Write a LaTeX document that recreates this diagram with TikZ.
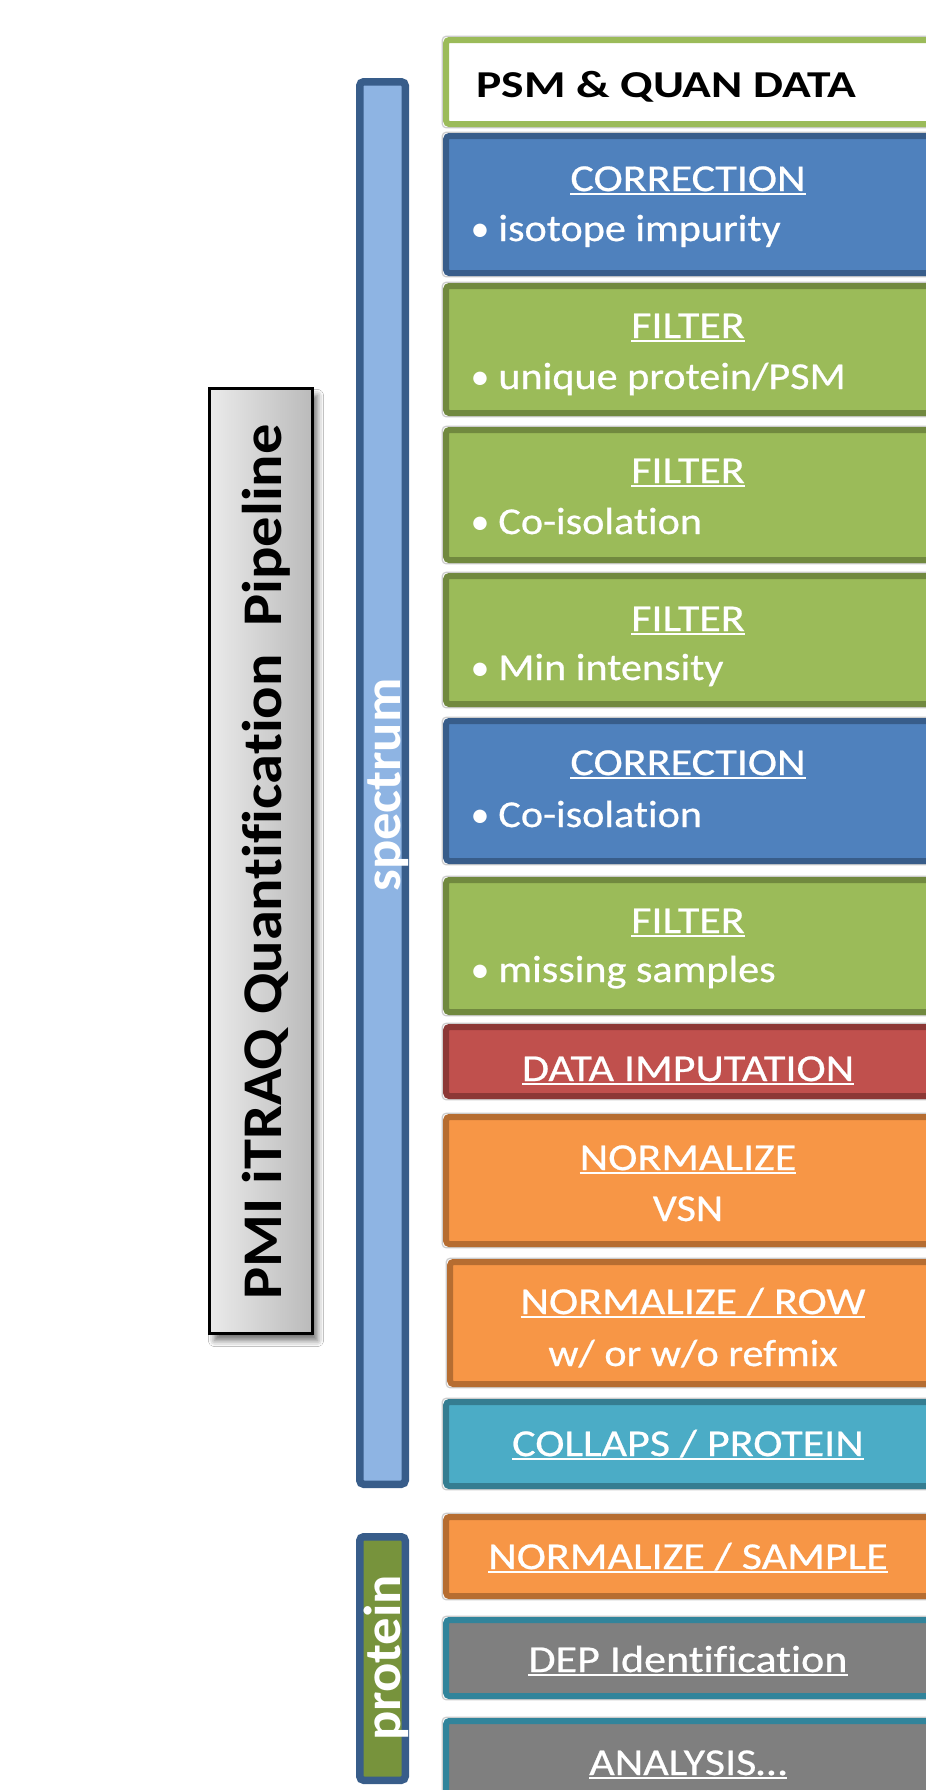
\documentclass[tikz,border=0pt]{standalone}
\usepackage{fontspec}
\setmainfont{Carlito}[Ligatures=NoCommon]
\newfontfamily\hdfont{Carlito}[FakeStretch=1.16, FakeBold=0.6, Ligatures=NoCommon]
\newfontfamily\bdfont{Carlito}[FakeStretch=1.11, FakeBold=0.6, Ligatures=NoCommon]
\newfontfamily\psmfont{Carlito}[FakeStretch=1.25, Ligatures=NoCommon]
\newfontfamily\ttlfont{Carlito}[FakeStretch=1.08, Ligatures=NoCommon]
\newfontfamily\sdfont{Carlito}[FakeStretch=1.05, Ligatures=NoCommon]
\usetikzlibrary{shadows.blur}
\definecolor{grF}{HTML}{9BBB59}\definecolor{grD}{HTML}{71893F}
\definecolor{blF}{HTML}{4F81BD}\definecolor{blD}{HTML}{385D8A}
\definecolor{rdF}{HTML}{C0504D}\definecolor{rdD}{HTML}{8C3836}
\definecolor{orF}{HTML}{F79646}\definecolor{orD}{HTML}{B66D31}
\definecolor{cyF}{HTML}{4BACC6}\definecolor{cyD}{HTML}{357D91}
\definecolor{gyF}{HTML}{7F7F7F}\definecolor{gyD}{HTML}{31849B}
\definecolor{spF}{HTML}{8EB4E3}\definecolor{prF}{HTML}{77933C}
\newcommand\myul[1]{\setbox0\hbox{#1}\rlap{\rule[-0.11em]{\wd0}{0.05em}}\box0}
\newcommand\stagebox[4]{%
  \draw[line width=0.6pt, black!20, rounded corners=2pt] (#1-0.8,#2-0.8) rectangle (990,#3+0.8);
  \draw[stage, draw=#4D, fill=#4F] (#1+3.2,#2+3) rectangle (985,#3-3);}
\tikzset{
  stage/.style={line width=3pt, rounded corners=1.5pt},
  head/.style={anchor=base, inner sep=0pt, text=white, font=\fontsize{19}{22}\hdfont},
  sub/.style={anchor=base west, inner sep=0pt, text=white, font=\fontsize{19}{22}\bdfont},
  subc/.style={anchor=base, inner sep=0pt, text=white, font=\fontsize{19}{22}\bdfont},
  dot/.style={anchor=base, inner sep=0pt, text=white, font=\fontsize{19}{22}\selectfont},
  sidebar/.style={line width=3.75pt, draw=blD, rounded corners=2pt},
  sidetext/.style={rotate=90, anchor=base, inner sep=0pt, text=white, font=\fontsize{26}{30}\sdfont\bfseries}
}
\begin{document}
\begin{tikzpicture}[x=0.5pt,y=-0.5pt]
\useasboundingbox (0,0) rectangle (926,1790);
\clip (0,0) rectangle (926,1790);
\fill[white] (0,0) rectangle (926,1790);
% title box
\draw[line width=1.5pt, black, left color=black!8, right color=black!27,
  blur shadow={shadow xshift=2.5pt, shadow yshift=-3.5pt, shadow blur radius=3pt, shadow opacity=55}]
  (209.5,388.5) rectangle (312.5,1333.5);
\node[rotate=90, anchor=base, inner sep=0pt, font=\fontsize{28}{32}\ttlfont\bfseries] (title) at (281,862) {PMI iTRAQ Quantification\ \ Pipeline};
% side bars
\draw[sidebar, fill=spF] (359.75,81.75) rectangle (405.25,1484.25);
\node[sidetext] (spec) at (400,785) {spectrum};
\draw[sidebar, fill=prF] (359.75,1536.75) rectangle (405.25,1780.25);
\node[sidetext] (prot) at (400,1658) {protein};
% stage boxes
\draw[line width=0.6pt, black!20, rounded corners=2pt] (442.2,36.2) rectangle (990,127.8);
\draw[stage, draw=grF, fill=white] (446.2,40) rectangle (985,124);
\node[anchor=base west, inner sep=0pt, font=\fontsize{19}{22}\psmfont\bfseries] (psm) at (476,97) {PSM \& QUAN DATA};

\stagebox{443}{133}{276}{bl}
\node[head] (c1) at (688,191) {\myul{CORRECTION}};
\node[dot] (c1d) at (480,241) {•};
\node[sub] (c1t) at (498,241) {isotope impurity};

\stagebox{443}{283}{416}{gr}
\node[head] (f1) at (688,338) {\myul{FILTER}};
\node[dot] (f1d) at (480,389) {•};
\node[sub] (f1t) at (498,389) {unique protein/PSM};

\stagebox{443}{427}{563}{gr}
\node[head] (f2) at (688,483) {\myul{FILTER}};
\node[dot] (f2d) at (480,534) {•};
\node[sub] (f2t) at (498,534) {Co-isolation};

\stagebox{443}{573}{707}{gr}
\node[head] (f3) at (688,631) {\myul{FILTER}};
\node[dot] (f3d) at (480,680) {•};
\node[sub] (f3t) at (498,680) {Min intensity};

\stagebox{443}{718}{864}{bl}
\node[head] (c2) at (688,775) {\myul{CORRECTION}};
\node[dot] (c2d) at (480,827) {•};
\node[sub] (c2t) at (498,827) {Co-isolation};

\stagebox{443}{877}{1015}{gr}
\node[head] (f4) at (688,933) {\myul{FILTER}};
\node[dot] (f4d) at (480,982) {•};
\node[sub] (f4t) at (498,982) {missing samples};

\stagebox{443}{1024}{1099}{rd}
\node[head] (imp) at (688,1081) {\myul{DATA IMPUTATION}};

\stagebox{443}{1114}{1247}{or}
\node[head] (n1) at (688,1170) {\myul{NORMALIZE}};
\node[subc] (n1s) at (688,1221) {VSN};

\stagebox{447}{1259}{1387}{or}
\node[head] (n2) at (693,1314) {\myul{NORMALIZE / ROW}};
\node[subc] (n2s) at (693,1366) {w/ or w/o refmix};

\stagebox{443}{1399}{1489}{cy}
\node[head] (col) at (688,1456) {\myul{COLLAPS / PROTEIN}};

\stagebox{443}{1514}{1599}{or}
\node[head] (n3) at (688,1569) {\myul{NORMALIZE / SAMPLE}};

\stagebox{443}{1617}{1699}{gy}
\node[head] (dep) at (688,1672) {\myul{DEP Identification}};

\stagebox{443}{1718}{1830}{gy}
\node[head] (ana) at (688,1775) {\myul{ANALYSIS…}};
\end{tikzpicture}
\end{document}
